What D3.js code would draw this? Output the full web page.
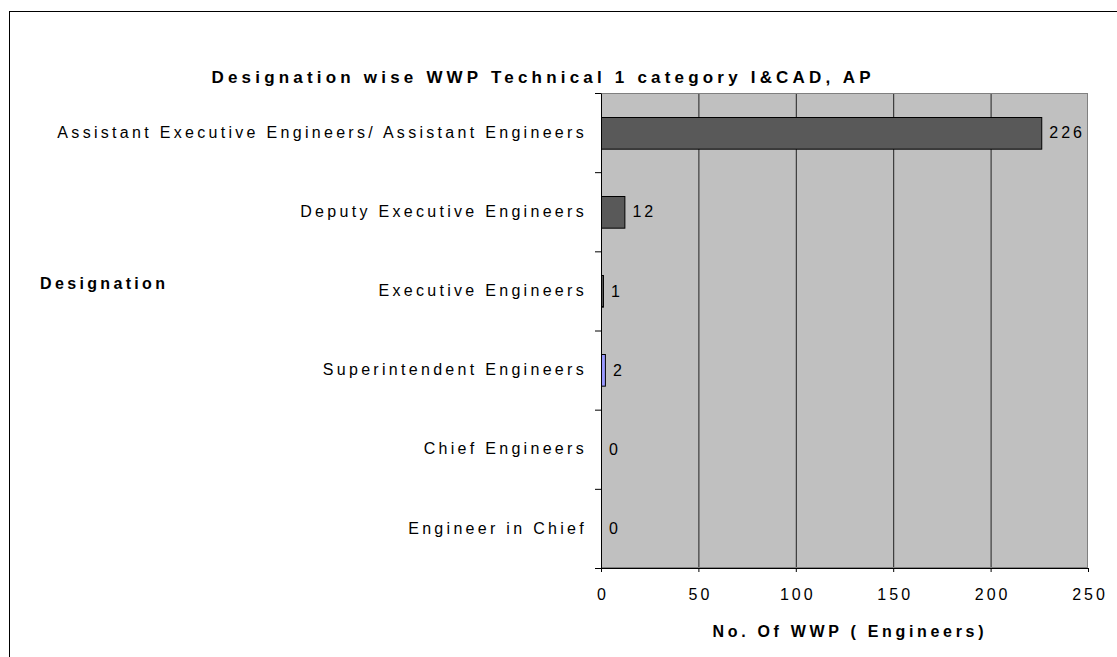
<!DOCTYPE html>
<html>
<head>
<meta charset="utf-8">
<script src="https://cdn.jsdelivr.net/npm/d3@7"></script>
<style>
  body { margin: 0; background: #fff; }
  text { font-family: "Liberation Sans", Arial, sans-serif; fill: #000; }
</style>
</head>
<body>
<div id="vizcontainer"></div>
<script>
const categories = ['Assistant Executive Engineers/ Assistant Engineers', 'Deputy Executive Engineers',
  'Executive Engineers', 'Superintendent Engineers', 'Chief Engineers', 'Engineer in Chief'],
  values = [226, 12, 1, 2, 0, 0],
  barColors = ['#595959', '#595959', '#595959', '#9999ff', '#595959', '#595959'],
  xTicks = [0, 50, 100, 150, 200, 250];

const width = 1117, height = 657;
const plotL = 601, plotR = 1088, plotT = 93, plotB = 568;
const spacing = 3.3;

const svg = d3.select('#vizcontainer')
  .append('svg')
  .attr('width', width)
  .attr('height', height);

// outer frame
svg.append('rect')
  .attr('x', 9.5).attr('y', 11.5)
  .attr('width', 1200).attr('height', 800)
  .attr('fill', 'none').attr('stroke', '#000').attr('stroke-width', 1);

const x = d3.scaleLinear().domain([0, 250]).range([plotL, plotR]);
const y = d3.scaleBand().domain(categories).range([plotT, plotB]).paddingInner(0.6).paddingOuter(0.3);
const band = (plotB - plotT) / categories.length;

// plot background
svg.append('rect')
  .attr('x', plotL).attr('y', plotT)
  .attr('width', plotR - plotL).attr('height', plotB - plotT)
  .attr('fill', '#c0c0c0');

// grid
svg.append('g').selectAll('line')
  .data(xTicks.slice(1, -1))
  .join('line')
  .attr('x1', d => x(d) + 0.5).attr('x2', d => x(d) + 0.5)
  .attr('y1', plotT).attr('y2', plotB)
  .attr('stroke', '#222').attr('stroke-width', 1);

svg.append('rect')
  .attr('x', plotL + 0.5).attr('y', plotT + 0.5)
  .attr('width', plotR - plotL - 1).attr('height', plotB - plotT - 1)
  .attr('fill', 'none').attr('stroke', '#808080');

// bars
svg.append('g').selectAll('rect')
  .data(values)
  .join('rect')
  .attr('x', x(0) + 0.5)
  .attr('y', (d, i) => Math.round(y(categories[i])) + 0.5)
  .attr('width', d => Math.max(0, x(d) - x(0)))
  .attr('height', y.bandwidth())
  .attr('fill', (d, i) => barColors[i])
  .attr('stroke', (d, i) => d > 0 ? '#000' : 'none')
  .attr('stroke-width', 1);

// value labels
svg.append('g').selectAll('text')
  .data(values)
  .join('text')
  .attr('x', d => x(d) + 8)
  .attr('y', (d, i) => y(categories[i]) + y.bandwidth() / 2)
  .attr('dy', '0.35em')
  .attr('font-size', 16)
  .attr('letter-spacing', 3)
  .text(d => d);

// y axis
const yAxis = svg.append('g')
  .attr('transform', `translate(${plotL},0)`)
  .call(d3.axisLeft(y).tickSize(0).tickPadding(14));
yAxis.selectAll('text').attr('font-size', 16).attr('letter-spacing', spacing);
yAxis.select('.domain').attr('stroke', '#000');
svg.append('g').selectAll('line')
  .data(d3.range(categories.length + 1))
  .join('line')
  .attr('x1', plotL - 6).attr('x2', plotL)
  .attr('y1', i => plotT + i * band + 0.5).attr('y2', i => plotT + i * band + 0.5)
  .attr('stroke', '#000');

// x axis
const xAxis = svg.append('g')
  .attr('transform', `translate(0,${plotB})`)
  .call(d3.axisBottom(x).tickValues(xTicks).tickSize(4).tickPadding(17).tickSizeOuter(0));
xAxis.select('.domain').attr('stroke', '#000');
xAxis.selectAll('text').attr('font-size', 16).attr('letter-spacing', 3).attr('dx', 1.5);

// titles
svg.append('text')
  .attr('x', 541).attr('y', 83)
  .attr('text-anchor', 'middle')
  .attr('font-size', 17).attr('font-weight', 'bold')
  .attr('textLength', 659).attr('lengthAdjust', 'spacing')
  .text('Designation wise WWP Technical 1 category I&CAD, AP');

svg.append('text')
  .attr('x', 848).attr('y', 637)
  .attr('text-anchor', 'middle')
  .attr('font-size', 16).attr('font-weight', 'bold')
  .attr('textLength', 271).attr('lengthAdjust', 'spacing')
  .text('No. Of WWP ( Engineers)');

svg.append('text')
  .attr('x', 40).attr('y', 289)
  .attr('font-size', 16).attr('font-weight', 'bold')
  .attr('textLength', 125).attr('lengthAdjust', 'spacing')
  .text('Designation');
</script>
</body>
</html>
